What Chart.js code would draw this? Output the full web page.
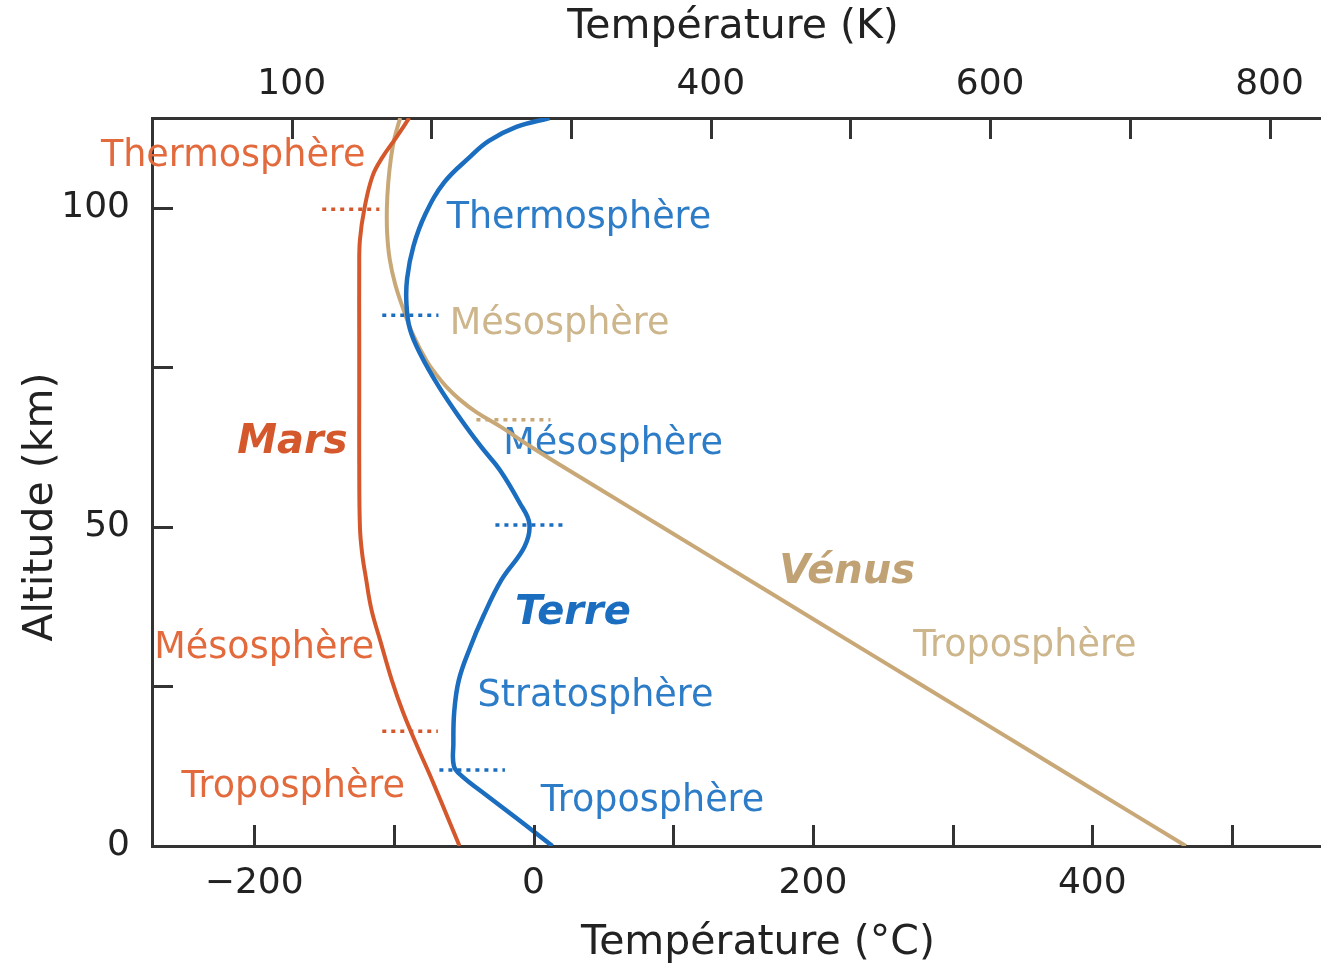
<!DOCTYPE html>
<html lang="fr">
<head>
<meta charset="utf-8">
<title>Profils de température : Vénus, Terre, Mars</title>
<script src="https://cdn.jsdelivr.net/npm/chart.js@4.4.1/dist/chart.umd.min.js"></script>
<style>
  html, body { margin: 0; padding: 0; background: #ffffff; }
  canvas { display: block; }
</style>
</head>
<body>
<canvas id="profil" width="1332" height="966"></canvas>
<script>
// ---- Temperature profiles: altitude (km) and temperature (°C) ----
const marsAlt   = [0, 5, 10, 16, 21, 26, 32, 37, 42, 46, 50, 60, 70, 80, 90, 95, 100, 105, 108, 111, 114.1];
const marsTemp  = [-53, -62.5, -72, -84, -93.5, -101.5, -109.5, -116, -120, -122.8, -124.3, -124.8, -124.8, -124.8, -124.8, -124.3, -121, -115.3, -108, -98.5, -89];

const earthAlt  = [0, 4, 8, 11, 12.5, 16, 21, 26, 31, 36, 41.7, 46.9, 50.5, 53.8, 58.9, 62.5, 67, 72, 77, 81, 85, 89, 94, 99, 104, 108, 110.5, 112.7, 114.1];
const earthTemp = [13.5, -10, -34, -51.5, -57, -57.4, -56.8, -53.5, -45.6, -36, -23, -6.5, -3, -10, -24, -37.3, -52.5, -67.8, -80.8, -88.5, -91, -90.5, -86, -77.5, -64, -45.5, -32, -12.3, 11.4];

const venusAlt  = [0, 10, 20, 30, 40, 50, 56, 60, 63, 65.5, 68, 70, 72, 74, 76, 80, 84, 88, 92, 96, 100, 104, 108, 111, 114.1];
const venusTemp = [467, 392, 317, 242, 167, 92, 47, 17, -5, -22, -41, -53, -62.5, -70, -76.5, -86, -93, -99, -103, -104.8, -105, -104, -102, -99.5, -95.5];

// ---- Layer boundaries (altitude, and the temperature span of each dotted mark) ----
const marsBoundAlt   = [99.8, 18.0];
const marsBoundFrom  = [-151.3, -108.3];
const marsBoundTo    = [-110.4, -68.5];
const earthBoundAlt  = [83.2, 50.3, 11.9];
const earthBoundFrom = [-108.3, -27.3, -67.4];
const earthBoundTo   = [-68.1, 23.6, -20.5];
const venusBoundAlt  = [66.8];
const venusBoundFrom = [-40.9];
const venusBoundTo   = [12.1];

// ---- Layer names and where they sit (°C, km) ----
const marsLayers     = ['Thermosphère', 'Mésosphère', 'Troposphère'];
const marsLayerT     = [-215, -192.8, -172];
const marsLayerAlt   = [108, 31, 9.1];
const earthLayers    = ['Thermosphère', 'Mésosphère', 'Stratosphère', 'Troposphère'];
const earthLayerT    = [32.5, 56.9, 44.3, 85.2];
const earthLayerAlt  = [98.4, 63, 23.4, 6.9];
const venusLayers    = ['Mésosphère', 'Troposphère'];
const venusLayerT    = [18.6, 351.7];
const venusLayerAlt  = [81.7, 31.2];

const planetNames    = ['Mars', 'Terre', 'Vénus'];
const planetNameT    = [-172.7, 28.2, 224.5];
const planetNameAlt  = [63.2, 36.5, 42.8];

// ---- Axes ----
const celsiusTicks  = [-200, -100, 0, 100, 200, 300, 400, 500];
const celsiusLabels = [-200, 0, 200, 400];
const kelvinTicks   = [100, 200, 300, 400, 500, 600, 700, 800];
const kelvinLabels  = [100, 400, 600, 800];
const altTicks      = [0, 25, 50, 75, 100];
const altLabels     = [0, 50, 100];
const celsiusMin = -273.15, celsiusMax = 563, altMax = 114.1;

const MARS = '#d5582c', MARS_TXT = '#e26a3c';
const EARTH = '#1a6dbf', EARTH_TXT = '#2c7cc8';
const VENUS = '#c9a878', VENUS_TXT = '#cdb58c', VENUS_NAME = '#c0a274';
const AXIS = '#333333', INK = '#222222';
const FAMILY = '"DejaVu Sans", "Liberation Sans", sans-serif';

Chart.defaults.font.family = FAMILY;

const toPoints = (alt, temp) => alt.map((a, i) => ({ x: temp[i], y: a }));
const minus = v => (v < 0 ? '\u2212' + Math.abs(v) : String(v));

function profile(label, alt, temp, color, width) {
  return {
    label, data: toPoints(alt, temp),
    borderColor: color, borderWidth: width,
    pointRadius: 0, fill: false,
    tension: 0.4
  };
}
function boundaries(alt, from, to, color) {
  return alt.map((a, i) => ({
    label: 'limite',
    data: [{ x: from[i], y: a }, { x: to[i], y: a }],
    borderColor: color, borderWidth: 3.5, borderDash: [4, 5],
    borderCapStyle: 'butt', pointRadius: 0, tension: 0, fill: false
  }));
}

// Tick marks pointing into the plot area
const TICK = 21;
const inwardTicks = {
  id: 'inwardTicks',
  afterDraw(chart) {
    const { ctx, chartArea: a, scales } = chart;
    ctx.save();
    ctx.strokeStyle = AXIS;
    ctx.lineWidth = 3;
    ctx.beginPath();
    scales.x.ticks.forEach(t => {
      const p = Math.round(scales.x.getPixelForValue(t.value)) + 0.5;
      ctx.moveTo(p, a.bottom); ctx.lineTo(p, a.bottom - TICK);
    });
    scales.xK.ticks.forEach(t => {
      const p = Math.round(scales.xK.getPixelForValue(t.value)) + 0.5;
      ctx.moveTo(p, a.top); ctx.lineTo(p, a.top + TICK);
    });
    scales.y.ticks.forEach(t => {
      const p = Math.round(scales.y.getPixelForValue(t.value)) + 0.5;
      ctx.moveTo(a.left, p); ctx.lineTo(a.left + TICK, p);
    });
    ctx.stroke();
    ctx.restore();
  }
};

// Layer names and planet names, placed on the data scales
const layerText = {
  id: 'layerText',
  beforeDatasetsDraw(chart) {
    const { ctx, scales: { x, y } } = chart;
    ctx.save();
    ctx.textAlign = 'center';
    ctx.textBaseline = 'middle';
    const put = (names, ts, alts, color, font) => {
      ctx.fillStyle = color;
      ctx.font = font;
      names.forEach((n, i) => ctx.fillText(n, x.getPixelForValue(ts[i]), y.getPixelForValue(alts[i])));
    };
    const plain = '36.5px ' + FAMILY;
    put(marsLayers, marsLayerT, marsLayerAlt, MARS_TXT, plain);
    put(earthLayers, earthLayerT, earthLayerAlt, EARTH_TXT, plain);
    put(venusLayers, venusLayerT, venusLayerAlt, VENUS_TXT, plain);
    const bold = 'italic bold 40px ' + FAMILY;
    const nameColors = [MARS, EARTH, VENUS_NAME];
    planetNames.forEach((n, i) =>
      put([n], [planetNameT[i]], [planetNameAlt[i]], nameColors[i], bold));
    ctx.restore();
  }
};

// Axis titles
const axisTitles = {
  id: 'axisTitles',
  afterDraw(chart) {
    const { ctx, chartArea: a } = chart;
    const cx = (a.left + a.right) / 2, cy = (a.top + a.bottom) / 2;
    ctx.save();
    ctx.fillStyle = INK;
    ctx.font = '41px ' + FAMILY;
    ctx.textAlign = 'center';
    ctx.textBaseline = 'middle';
    ctx.fillText('Température (K)', cx - 3, a.top - 91);
    ctx.fillText('Température (°C)', cx + 22, a.bottom + 97);
    ctx.translate(41, cy + 25);
    ctx.rotate(-Math.PI / 2);
    ctx.fillText('Altitude (km)', 0, 0);
    ctx.restore();
  }
};

const tickFont = { family: FAMILY, size: 36 };

new Chart(document.getElementById('profil'), {
  type: 'line',
  data: {
    datasets: [
      ...boundaries(earthBoundAlt, earthBoundFrom, earthBoundTo, EARTH),
      ...boundaries(marsBoundAlt, marsBoundFrom, marsBoundTo, MARS),
      ...boundaries(venusBoundAlt, venusBoundFrom, venusBoundTo, VENUS),
      profile('Terre', earthAlt, earthTemp, EARTH, 4.5),
      profile('Mars', marsAlt, marsTemp, MARS, 4),
      profile('Vénus', venusAlt, venusTemp, VENUS, 4)
    ]
  },
  options: {
    responsive: false,
    animation: false,
    indexAxis: 'y',
    layout: { padding: { left: 0, right: 12, top: 0, bottom: 0 } },
    plugins: { legend: { display: false }, tooltip: { enabled: false } },
    scales: {
      x: {
        type: 'linear', position: 'bottom',
        min: celsiusMin, max: celsiusMax,
        afterBuildTicks: s => { s.ticks = celsiusTicks.map(v => ({ value: v })); },
        afterFit: s => { s.height = 120; },
        ticks: {
          autoSkip: false, maxRotation: 0, padding: 16, color: INK, font: tickFont,
          callback: v => (celsiusLabels.includes(v) ? minus(v) : '')
        },
        grid: { display: false, drawTicks: false },
        border: { display: true, color: AXIS, width: 3 }
      },
      xK: {
        type: 'linear', position: 'top',
        min: celsiusMin + 273.15, max: celsiusMax + 273.15,
        afterBuildTicks: s => { s.ticks = kelvinTicks.map(v => ({ value: v })); },
        afterFit: s => { s.height = 118; },
        ticks: {
          autoSkip: false, maxRotation: 0, padding: 12, color: INK, font: tickFont,
          callback: v => (kelvinLabels.includes(v) ? String(v) : '')
        },
        grid: { display: false, drawTicks: false },
        border: { display: true, color: AXIS, width: 3 }
      },
      y: {
        type: 'linear', position: 'left',
        min: 0, max: altMax,
        afterBuildTicks: s => { s.ticks = altTicks.map(v => ({ value: v })); },
        afterFit: s => { s.width = 152; },
        ticks: {
          autoSkip: false, padding: 22, color: INK, font: tickFont,
          callback: v => (altLabels.includes(v) ? String(v) : '')
        },
        grid: { display: false, drawTicks: false },
        border: { display: true, color: AXIS, width: 3 }
      }
    }
  },
  plugins: [layerText, inwardTicks, axisTitles]
});
</script>
</body>
</html>
